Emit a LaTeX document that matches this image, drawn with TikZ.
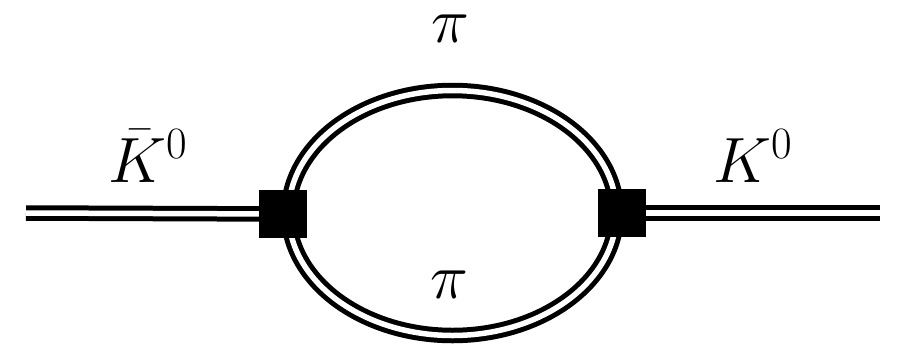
\RequirePackage{fix-cm}
\documentclass[tikz,border=0pt]{standalone}
\usetikzlibrary{backgrounds}
\begin{document}
\begin{tikzpicture}[x=1pt,y=-1pt,
  dbl/.style={draw=black,line width=5pt,double=white,double distance=5.5pt},
  vertexbox/.style={fill=black,draw=none,minimum size=48pt,inner sep=0pt},
  lbl/.style={inner sep=0pt,font=\fontsize{64}{70}\selectfont}]
\useasboundingbox (0,0) rectangle (897,349);
\coordinate (c) at (452.5,213);
\coordinate (a) at (26,213);
\coordinate (b) at (880,213);
\node[vertexbox] (v1) at (283,214) {};
\node[vertexbox] (v2) at (622,213) {};
\begin{pgfonlayer}{background}
\draw[dbl] (c) ellipse [x radius=164pt, y radius=122.5pt];
\draw[dbl] (a) -- (v1.center);
\draw[dbl] (v2.center) -- (b);
\end{pgfonlayer}
\node[lbl,anchor=base west] (kbar) at (108,182) {$\bar K^0$};
\node[lbl,anchor=base west] (k) at (713,182) {$K^0$};
\node[lbl,anchor=base] (pitop) at (450,42) {$\pi$};
\node[lbl,anchor=base] (pibot) at (449,298) {$\pi$};
\end{tikzpicture}
\end{document}
